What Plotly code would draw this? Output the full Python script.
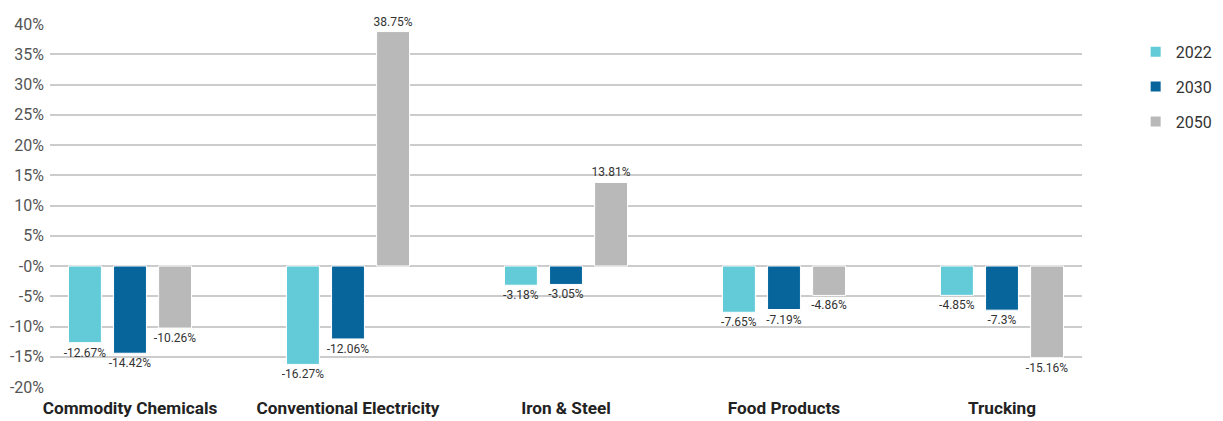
import plotly.graph_objects as go

categories = ["Commodity Chemicals", "Conventional Electricity", "Iron & Steel", "Food Products", "Trucking"]
series_names = ["2022", "2030", "2050"]
values_2022 = [-12.67, -16.27, -3.18, -7.65, -4.85]
values_2030 = [-14.42, -12.06, -3.05, -7.19, -7.3]
values_2050 = [-10.26, 38.75, 13.81, -4.86, -15.16]
colors = ["#63cad7", "#07659c", "#b9b9b9"]
tick_vals = [40, 35, 30, 25, 20, 15, 10, 5, 0, -5, -10, -15, -20]
tick_text = ["40%", "35%", "30%", "25%", "20%", "15%", "10%", "5%", "-0%", "-5%", "-10%", "-15%", "-20%"]

fig = go.Figure()
for name, vals, col in zip(series_names, [values_2022, values_2030, values_2050], colors):
    fig.add_trace(go.Bar(
        x=list(range(len(categories))), y=vals, name=name, legendgroup=name,
        marker=dict(color=col, line=dict(color="white", width=1)),
        text=[f"{v}%" for v in vals], textposition="outside",
        textfont=dict(family="Roboto", size=12, color="#333333"),
        constraintext="none", cliponaxis=False,
    ))

# page body has an 8px margin, so the figure is sized to fit inside the window
fig.update_layout(
    width=1215, height=413,
    margin=dict(l=42, r=141, t=16, b=34, autoexpand=False),
    paper_bgcolor="white", plot_bgcolor="white",
    barmode="group", bargap=0.38, bargroupgap=0.27,
    font=dict(family="Roboto", color="#333333"),
    legend=dict(x=1.052, y=0.97, xanchor="left", yanchor="top",
                font=dict(family="Roboto", size=16, color="#333333"),
                itemwidth=30, tracegroupgap=11, itemsizing="constant"),
)
fig.update_xaxes(
    tickvals=list(range(len(categories))), ticktext=[f"<b>{c}</b>" for c in categories],
    range=[-0.367, 4.367], showgrid=False, zeroline=False, showline=False, automargin=False,
    tickfont=dict(family="Roboto", size=17.2, color="#222222"), ticks="", ticklabelstandoff=9,
)
fig.update_yaxes(
    range=[-20, 40], tickvals=tick_vals, ticktext=tick_text, automargin=False,
    showgrid=True, gridcolor="#cccccc", gridwidth=2, zeroline=False, showline=False,
    tickfont=dict(family="Roboto", size=16, color="#555555"), ticks="", ticklabelstandoff=5,
)
fig.write_html("out.html")
